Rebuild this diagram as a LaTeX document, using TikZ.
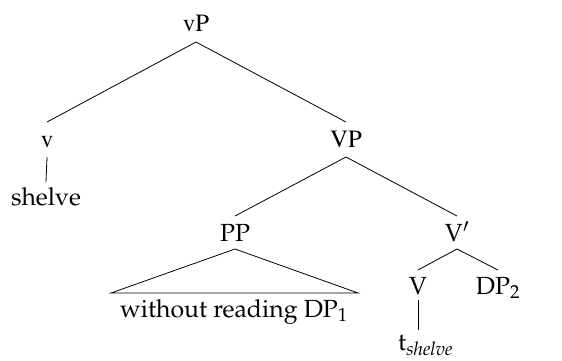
\documentclass[tikz,border=0pt]{standalone}
\usepackage[T1]{fontenc}
\usepackage{mathpazo}
\begin{document}
\begin{tikzpicture}[x=1pt,y=-1pt,
  lbl/.style={inner sep=0pt,anchor=base,font=\fontsize{24.8}{28}\selectfont},
  tms/.style={lbl,font=\fontsize{24.8}{28}\fontfamily{ptm}\selectfont},
  branch/.style={line width=0.8pt}]
\useasboundingbox (0,0) rectangle (562,360);
% labels
\node[tms] (vP) at (196,31) {vP};
\node[tms] (v) at (47,147) {v};
\node[tms] (VP) at (346,147) {VP};
\node[lbl] (shelve) at (46,205) {shelve};
\node[lbl] (PP) at (235,241) {PP};
\node[lbl] (Vbar) at (457,241) {V$'$};
\node[lbl] (V) at (418,294) {V};
\node[lbl] (DP2) at (498,294) {DP$_2$};
\node[lbl] (wr) at (234,317) {without reading DP$_1$};
\node[lbl,anchor=base west] (t) at (398,350) {t$_{\mathit{shelve}}$};
% triangle corners
\coordinate (triL) at (111,293);
\coordinate (triR) at (358,293);
% branches
\draw[branch] ([yshift=-11pt]vP.base) -- ([yshift=25pt]v.base);
\draw[branch] ([yshift=-11pt]vP.base) -- ([yshift=25pt]VP.base);
\draw[branch] ([yshift=-10pt]v.base) -- ([yshift=23pt]shelve.base);
\draw[branch] ([yshift=-10pt]VP.base) -- ([yshift=25pt]PP.base);
\draw[branch] ([yshift=-10pt]VP.base) -- ([yshift=25pt]Vbar.base);
\draw[branch] ([yshift=-8pt]Vbar.base) -- ([yshift=24pt]V.base);
\draw[branch] ([yshift=-8pt]Vbar.base) -- ([yshift=24pt]DP2.base);
\draw[branch] ([yshift=-6pt]V.base) -- ([yshift=20pt]V.base |- t.base);
\draw[branch,line join=miter] ([yshift=-8pt]PP.base) -- (triL) -- (triR) -- cycle;
\end{tikzpicture}
\end{document}
